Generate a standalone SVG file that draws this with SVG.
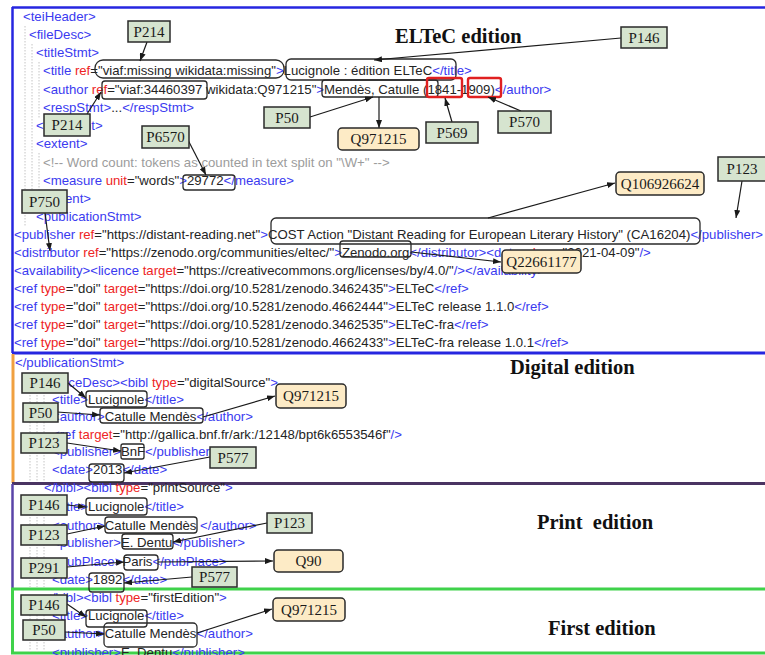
<svg xmlns="http://www.w3.org/2000/svg" width="765" height="655" viewBox="0 0 765 655">
  <style>
    .code { font-family: "Liberation Sans", Arial, sans-serif; font-size: 13.2px; fill: #242424; }
    .tg { fill: #3a3af0; }
    .at { fill: #ee2424; }
    .cm { fill: #9c9c9c; }
    .guide { stroke: #c4c4c4; stroke-width: 1; stroke-dasharray: 1.5 1.5; }
    .lbl { font-family: "Liberation Serif", "Times New Roman", serif; font-size: 15px; fill: #1a1a1a; text-anchor: middle; }
    .pbox rect { fill: #d6e4cf; stroke: #2a2a2a; stroke-width: 1.5; }
    .qbox rect { fill: #fdebc6; stroke: #2a2a2a; stroke-width: 1.5; }
    .hl { fill: none; stroke: #2a2a2a; stroke-width: 1.3; }
    .hlr { fill: none; stroke: #e02020; stroke-width: 2.4; }
    .edge { stroke: #1a1a1a; stroke-width: 1.2; fill: none; marker-end: url(#ah); }
    .head { font-family: "Liberation Serif", "Times New Roman", serif; font-weight: bold; font-size: 20.5px; fill: #111; }
  </style>
  <defs>
    <marker id="ah" viewBox="0 0 8 6" refX="8" refY="3" markerWidth="8" markerHeight="6" markerUnits="userSpaceOnUse" orient="auto">
      <path d="M0,0L8,3L0,6z" fill="#1a1a1a"/>
    </marker>
  </defs>

  <rect width="765" height="655" fill="#ffffff"/>

  <!-- section frames -->
  <g id="frames" fill="none">
    <line x1="12" y1="7.5" x2="765" y2="7.5" stroke="#2626e0" stroke-width="2.5"/>
    <line x1="12.5" y1="7" x2="12.5" y2="353" stroke="#2626e0" stroke-width="2.5"/>
    <line x1="12" y1="353" x2="765" y2="353" stroke="#2626e0" stroke-width="3"/>
    <line x1="13" y1="354" x2="13" y2="483" stroke="#f0a040" stroke-width="3"/>
    <line x1="12" y1="483.5" x2="765" y2="483.5" stroke="#4a3462" stroke-width="3"/>
    <line x1="12.5" y1="484" x2="12.5" y2="588" stroke="#5a44a8" stroke-width="2.5"/>
    <rect x="12.5" y="589" width="760" height="64" stroke="#3fd24a" stroke-width="3"/>
  </g>

  <!-- editor indentation guides -->
  <g id="guides" class="guide">
    <line x1="25" y1="26" x2="25" y2="226"/>
    <line x1="32" y1="44" x2="32" y2="210"/>
    <line x1="39" y1="62" x2="39" y2="118"/>
    <line x1="39" y1="153" x2="39" y2="192"/>
    <line x1="30" y1="392" x2="30" y2="482"/>
    <line x1="37" y1="392" x2="37" y2="482"/>
    <line x1="44" y1="392" x2="44" y2="482"/>
    <line x1="30" y1="496" x2="30" y2="587"/>
    <line x1="37" y1="496" x2="37" y2="587"/>
    <line x1="44" y1="496" x2="44" y2="587"/>
    <line x1="30" y1="606" x2="30" y2="652"/>
    <line x1="37" y1="606" x2="37" y2="652"/>
    <line x1="44" y1="606" x2="44" y2="652"/>
  </g>

  <!-- TEI header source listing -->
  <g id="code" class="code">
    <text x="23" y="21"><tspan class="tg">&lt;teiHeader&gt;</tspan></text>
    <text x="29" y="39"><tspan class="tg">&lt;fileDesc&gt;</tspan></text>
    <text x="36" y="57"><tspan class="tg">&lt;titleStmt&gt;</tspan></text>
    <text x="43" y="75"><tspan class="tg">&lt;title </tspan><tspan class="at">ref</tspan>="viaf:missing wikidata:missing"<tspan class="tg">&gt;</tspan>Lucignole : édition ELTeC<tspan class="tg">&lt;/title&gt;</tspan></text>
    <text x="43" y="94"><tspan class="tg">&lt;author </tspan><tspan class="at">ref</tspan>="viaf:34460397 wikidata:Q971215"<tspan class="tg">&gt;</tspan>Mendès, Catulle (1841-1909)<tspan class="tg">&lt;/author&gt;</tspan></text>
    <text x="43" y="112"><tspan class="tg">&lt;respStmt&gt;</tspan>...<tspan class="tg">&lt;/respStmt&gt;</tspan></text>
    <text x="36" y="130"><tspan class="tg">&lt;/titleStmt&gt;</tspan></text>
    <text x="36" y="148"><tspan class="tg">&lt;extent&gt;</tspan></text>
    <text x="43" y="167" class="cm">&lt;!-- Word count: tokens as counted in text split on "\W+" --&gt;</text>
    <text x="43" y="185"><tspan class="tg">&lt;measure </tspan><tspan class="at">unit</tspan>="words"<tspan class="tg">&gt;</tspan>29772<tspan class="tg">&lt;/measure&gt;</tspan></text>
    <text x="36" y="203"><tspan class="tg">&lt;/extent&gt;</tspan></text>
    <text x="36" y="221"><tspan class="tg">&lt;publicationStmt&gt;</tspan></text>
    <text x="14" y="239"><tspan class="tg">&lt;publisher </tspan><tspan class="at">ref</tspan>="https://distant-reading.net"<tspan class="tg">&gt;</tspan>COST Action "Distant Reading for European Literary History" (CA16204)<tspan class="tg">&lt;/publisher&gt;</tspan></text>
    <text x="14" y="257"><tspan class="tg">&lt;distributor </tspan><tspan class="at">ref</tspan>="https://zenodo.org/communities/eltec/"<tspan class="tg">&gt;</tspan>Zenodo.org<tspan class="tg">&lt;/distributor&gt;&lt;date </tspan><tspan class="at">when</tspan>="2021-04-09"<tspan class="tg">/&gt;</tspan></text>
    <text x="14" y="275"><tspan class="tg">&lt;availability&gt;&lt;licence </tspan><tspan class="at">target</tspan>="https://creativecommons.org/licenses/by/4.0/"<tspan class="tg">/&gt;&lt;/availability&gt;</tspan></text>
    <text x="14" y="293"><tspan class="tg">&lt;ref </tspan><tspan class="at">type</tspan>="doi" <tspan class="at">target</tspan>="https://doi.org/10.5281/zenodo.3462435"<tspan class="tg">&gt;</tspan>ELTeC<tspan class="tg">&lt;/ref&gt;</tspan></text>
    <text x="14" y="311"><tspan class="tg">&lt;ref </tspan><tspan class="at">type</tspan>="doi" <tspan class="at">target</tspan>="https://doi.org/10.5281/zenodo.4662444"<tspan class="tg">&gt;</tspan>ELTeC release 1.1.0<tspan class="tg">&lt;/ref&gt;</tspan></text>
    <text x="14" y="329"><tspan class="tg">&lt;ref </tspan><tspan class="at">type</tspan>="doi" <tspan class="at">target</tspan>="https://doi.org/10.5281/zenodo.3462535"<tspan class="tg">&gt;</tspan>ELTeC-fra<tspan class="tg">&lt;/ref&gt;</tspan></text>
    <text x="14" y="347"><tspan class="tg">&lt;ref </tspan><tspan class="at">type</tspan>="doi" <tspan class="at">target</tspan>="https://doi.org/10.5281/zenodo.4662433"<tspan class="tg">&gt;</tspan>ELTeC-fra release 1.0.1<tspan class="tg">&lt;/ref&gt;</tspan></text>

    <text x="15" y="367"><tspan class="tg">&lt;/publicationStmt&gt;</tspan></text>
    <text x="35" y="387"><tspan class="tg">&lt;sourceDesc&gt;&lt;bibl </tspan><tspan class="at">type</tspan>="digitalSource"<tspan class="tg">&gt;</tspan></text>
    <text x="52" y="404"><tspan class="tg">&lt;title&gt;</tspan>Lucignole<tspan class="tg">&lt;/title&gt;</tspan></text>
    <text x="52" y="421"><tspan class="tg">&lt;author&gt;</tspan>Catulle Mendès<tspan class="tg">&lt;/author&gt;</tspan></text>
    <text x="52" y="439"><tspan class="tg">&lt;ref </tspan><tspan class="at">target</tspan>="http://gallica.bnf.fr/ark:/12148/bpt6k6553546f"<tspan class="tg">/&gt;</tspan></text>
    <text x="52" y="456"><tspan class="tg">&lt;publisher&gt;</tspan>BnF<tspan class="tg">&lt;/publisher&gt;</tspan></text>
    <text x="52" y="474"><tspan class="tg">&lt;date&gt;</tspan>2013<tspan class="tg">&lt;/date&gt;</tspan></text>
    <text x="44" y="492"><tspan class="tg">&lt;/bibl&gt;&lt;bibl </tspan><tspan class="at">type</tspan>="printSource"<tspan class="tg">&gt;</tspan></text>

    <text x="52" y="511"><tspan class="tg">&lt;title&gt;</tspan>Lucignole<tspan class="tg">&lt;/title&gt;</tspan></text>
    <text x="52" y="530"><tspan class="tg">&lt;author&gt;</tspan>Catulle Mendès <tspan class="tg">&lt;/author&gt;</tspan></text>
    <text x="52" y="547"><tspan class="tg">&lt;publisher&gt;</tspan>E. Dentu<tspan class="tg">&lt;/publisher&gt;</tspan></text>
    <text x="52" y="566"><tspan class="tg">&lt;pubPlace&gt;</tspan>Paris<tspan class="tg">&lt;/pubPlace&gt;</tspan></text>
    <text x="52" y="584"><tspan class="tg">&lt;date&gt;</tspan>1892<tspan class="tg">&lt;/date&gt;</tspan></text>

    <text x="44" y="602"><tspan class="tg">&lt;/bibl&gt;&lt;bibl </tspan><tspan class="at">type</tspan>="firstEdition"<tspan class="tg">&gt;</tspan></text>
    <text x="52" y="620"><tspan class="tg">&lt;title&gt;</tspan>Lucignole<tspan class="tg">&lt;/title&gt;</tspan></text>
    <text x="52" y="638"><tspan class="tg">&lt;author&gt;</tspan>Catulle Mendès<tspan class="tg">&lt;/author&gt;</tspan></text>
    <text x="52" y="657"><tspan class="tg">&lt;publisher&gt;</tspan>E. Dentu<tspan class="tg">&lt;/publisher&gt;</tspan></text>
  </g>

  <!-- section headings -->
  <g id="headings" class="head">
    <text x="395" y="43">ELTeC edition</text>
    <text x="510" y="374">Digital edition</text>
    <text x="537" y="529" style="white-space:pre">Print  edition</text>
    <text x="548" y="635">First edition</text>
  </g>

  <!-- highlighted value spans -->
  <g id="span-viaf-missing"><rect class="hl" x="95" y="60" width="189" height="18" rx="8"/></g>
  <g id="span-title-eltec"><rect class="hl" x="286" y="59" width="170" height="21" rx="5"/></g>
  <g id="span-viaf-author"><rect class="hl" x="102" y="81" width="105" height="18" rx="3"/></g>
  <g id="span-author-eltec"><rect class="hl" x="322" y="80" width="116" height="17" rx="3"/></g>
  <g id="span-birth"><rect class="hlr" x="427" y="78" width="35" height="19" rx="2"/></g>
  <g id="span-death"><rect class="hlr" x="468" y="78" width="33" height="19" rx="2"/></g>
  <g id="span-words"><rect class="hl" x="183" y="175" width="52" height="15" rx="3"/></g>
  <g id="span-publisher"><rect class="hl" x="271" y="218" width="429" height="26" rx="5"/></g>
  <g id="span-distributor"><rect class="hl" x="340" y="241" width="71" height="16" rx="3"/></g>
  <g id="span-title-digital"><rect class="hl" x="86" y="391" width="61" height="16" rx="3"/></g>
  <g id="span-author-digital"><rect class="hl" x="100" y="408" width="103" height="15" rx="3"/></g>
  <g id="span-publisher-digital"><rect class="hl" x="121" y="444" width="23" height="15" rx="2"/></g>
  <g id="span-date-digital"><rect class="hl" x="89" y="464" width="35" height="18" rx="3"/></g>
  <g id="span-title-print"><rect class="hl" x="86" y="498" width="61" height="17" rx="3"/></g>
  <g id="span-author-print"><rect class="hl" x="105" y="517" width="92" height="16" rx="3"/></g>
  <g id="span-publisher-print"><rect class="hl" x="122" y="534" width="51" height="15" rx="3"/></g>
  <g id="span-place-print"><rect class="hl" x="124" y="555" width="34" height="15" rx="3"/></g>
  <g id="span-date-print"><rect class="hl" x="89" y="573" width="35" height="19" rx="3"/></g>
  <g id="span-title-first"><rect class="hl" x="86" y="610" width="61" height="17" rx="3"/></g>
  <g id="span-author-first"><rect class="hl" x="104" y="623" width="93" height="24" rx="4"/></g>

  <!-- connectors -->
  <g id="connectors">
    <line class="edge" x1="147" y1="42" x2="140" y2="61"/>
    <line class="edge" x1="87" y1="114" x2="101" y2="92"/>
    <line class="edge" x1="188" y1="140" x2="206" y2="175"/>
    <line class="edge" x1="621" y1="38" x2="374" y2="60"/>
    <line class="edge" x1="310" y1="117" x2="373" y2="97"/>
    <line class="edge" x1="379" y1="97" x2="379" y2="128"/>
    <line class="edge" x1="452" y1="122" x2="445" y2="98"/>
    <line class="edge" x1="521" y1="111" x2="488" y2="97"/>
    <line class="edge" x1="742" y1="181" x2="736" y2="218"/>
    <line class="edge" x1="488" y1="218" x2="615" y2="183"/>
    <line class="edge" x1="411" y1="252" x2="501" y2="262"/>
    <line class="edge" x1="45" y1="213" x2="50" y2="251"/>
    <line class="edge" x1="68" y1="383" x2="86" y2="398"/>
    <line class="edge" x1="57" y1="412" x2="100" y2="415"/>
    <line class="edge" x1="203" y1="417" x2="275" y2="396"/>
    <line class="edge" x1="67" y1="443" x2="121" y2="451"/>
    <line class="edge" x1="210" y1="457" x2="124" y2="473"/>
    <line class="edge" x1="67" y1="505" x2="86" y2="507"/>
    <line class="edge" x1="67" y1="534" x2="105" y2="526"/>
    <line class="edge" x1="267" y1="523" x2="173" y2="542"/>
    <line class="edge" x1="67" y1="567" x2="124" y2="562"/>
    <line class="edge" x1="158" y1="562" x2="273" y2="561"/>
    <line class="edge" x1="192" y1="577" x2="124" y2="583"/>
    <line class="edge" x1="67" y1="604" x2="86" y2="617"/>
    <line class="edge" x1="65" y1="632" x2="104" y2="634"/>
    <line class="edge" x1="197" y1="633" x2="272" y2="609"/>
  </g>

  <!-- Wikidata property labels -->
  <g id="p214-title" class="pbox"><rect x="128" y="21" width="42" height="21"/><text class="lbl" x="149" y="36.5">P214</text></g>
  <g id="p214-author" class="pbox"><rect x="44" y="114" width="46" height="22"/><text class="lbl" x="67" y="130">P214</text></g>
  <g id="p6570" class="pbox"><rect x="142" y="126" width="47" height="22"/><text class="lbl" x="165.5" y="142">P6570</text></g>
  <g id="p146-eltec" class="pbox"><rect x="621" y="27" width="46" height="21"/><text class="lbl" x="644" y="42.5">P146</text></g>
  <g id="p50-eltec" class="pbox"><rect x="264" y="107" width="46" height="21"/><text class="lbl" x="287" y="122.5">P50</text></g>
  <g id="p569" class="pbox"><rect x="426" y="122" width="52" height="21"/><text class="lbl" x="452" y="137.5">P569</text></g>
  <g id="p570" class="pbox"><rect x="498" y="111" width="53" height="22"/><text class="lbl" x="524.5" y="127">P570</text></g>
  <g id="p123-eltec" class="pbox"><rect x="718" y="157" width="50" height="24"/><text class="lbl" x="742" y="174">P123</text></g>
  <g id="p750" class="pbox"><rect x="22" y="190" width="45" height="23"/><text class="lbl" x="44.5" y="206.5">P750</text></g>
  <g id="p146-digital" class="pbox"><rect x="22" y="373" width="46" height="20"/><text class="lbl" x="45" y="388">P146</text></g>
  <g id="p50-digital" class="pbox"><rect x="23" y="403" width="35" height="19"/><text class="lbl" x="40.5" y="417.5">P50</text></g>
  <g id="p123-digital" class="pbox"><rect x="21" y="433" width="46" height="20"/><text class="lbl" x="44" y="448">P123</text></g>
  <g id="p577-digital" class="pbox"><rect x="210" y="447" width="46" height="21"/><text class="lbl" x="233" y="462.5">P577</text></g>
  <g id="p146-print" class="pbox"><rect x="21" y="495" width="46" height="20"/><text class="lbl" x="44" y="510">P146</text></g>
  <g id="p123-print-author" class="pbox"><rect x="21" y="525" width="46" height="20"/><text class="lbl" x="44" y="540">P123</text></g>
  <g id="p123-print" class="pbox"><rect x="267" y="513" width="45" height="20"/><text class="lbl" x="289.5" y="528">P123</text></g>
  <g id="p291" class="pbox"><rect x="21" y="558" width="46" height="20"/><text class="lbl" x="44" y="573">P291</text></g>
  <g id="p577-print" class="pbox"><rect x="192" y="567" width="45" height="20"/><text class="lbl" x="214.5" y="582">P577</text></g>
  <g id="p146-first" class="pbox"><rect x="21" y="595" width="46" height="20"/><text class="lbl" x="44" y="610">P146</text></g>
  <g id="p50-first" class="pbox"><rect x="23" y="620" width="42" height="20"/><text class="lbl" x="44" y="635">P50</text></g>

  <!-- Wikidata item labels -->
  <g id="q971215-eltec" class="qbox"><rect x="338" y="128" width="81" height="22" rx="4"/><text class="lbl" x="378.5" y="144">Q971215</text></g>
  <g id="q106926624" class="qbox"><rect x="616" y="172" width="88" height="23" rx="4"/><text class="lbl" x="660" y="188.5">Q106926624</text></g>
  <g id="q22661177" class="qbox"><rect x="502" y="250" width="79" height="23" rx="4"/><text class="lbl" x="541.5" y="266.5">Q22661177</text></g>
  <g id="q971215-digital" class="qbox"><rect x="276" y="384" width="70" height="24" rx="4"/><text class="lbl" x="311" y="401">Q971215</text></g>
  <g id="q90" class="qbox"><rect x="274" y="550" width="69" height="22" rx="4"/><text class="lbl" x="308.5" y="566">Q90</text></g>
  <g id="q971215-first" class="qbox"><rect x="273" y="598" width="72" height="23" rx="4"/><text class="lbl" x="309" y="614.5">Q971215</text></g>
</svg>
